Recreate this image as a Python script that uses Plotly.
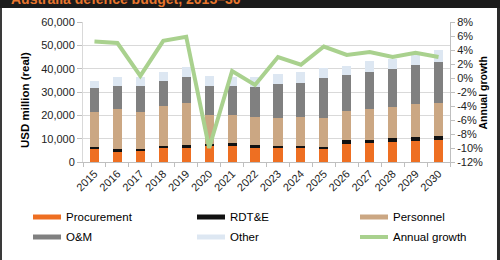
import plotly.graph_objects as go

years = [str(y) for y in range(2015, 2031)]
procurement = [5400, 4400, 4600, 5900, 6000, 6800, 6900, 6100, 5900, 5900, 5400, 7900, 8100, 8600, 9000, 9300]
rdte = [1000, 1200, 1000, 1000, 1100, 1100, 1200, 1200, 1000, 1000, 1000, 1400, 1500, 1500, 1600, 1700]
personnel = [15000, 17300, 16000, 17100, 18100, 12200, 12000, 11800, 11800, 12200, 12600, 12700, 13100, 13500, 14100, 14400]
om = [10200, 9500, 11100, 10900, 11200, 12300, 12600, 12900, 14600, 14800, 16900, 15300, 15700, 16300, 16700, 17500]
other = [3100, 4200, 3600, 3700, 4300, 4500, 3900, 4600, 4300, 4500, 4200, 4000, 4700, 4400, 4700, 5200]
growth = [5.2, 5.0, 0.3, 5.3, 5.9, -10.0, 1.0, -1.0, 3.0, 1.9, 4.5, 3.3, 3.7, 3.0, 3.6, 3.0]

y2_tickvals = [8, 6, 4, 2, 0, -2, -4, -6, -8, -10, -12]
y2_ticktext = ["8%", "6%", "4%", "2%", "0%", "-2%", "-4%", "-6%", "-8%", "-10%", "-12%"]

title_text = "Australia defence budget, 2015–30"
series_names = ["Procurement", "RDT&E", "Personnel", "O&M", "Other", "Annual growth"]
colors = ["#EE6F22", "#111111", "#CBA783", "#808080", "#DDE7F2", "#A9D18E"]

FONT = "Arial, 'Liberation Sans', sans-serif"
W, H = 500, 260
L, R, T, B = 83, 50, 22, 98
PW, PH = W - L - R, H - T - B


def px(x):
    return (x - L) / PW


def py(y):
    return (H - B - y) / PH


fig = go.Figure()
bar_series = [procurement, rdte, personnel, om, other]
for name, vals, col in zip(series_names[:5], bar_series, colors[:5]):
    fig.add_trace(go.Bar(x=years, y=vals, name=name, marker=dict(color=col, line=dict(width=0)),
                         showlegend=False))
fig.add_trace(go.Scatter(x=years, y=growth, name=series_names[5], yaxis="y2", mode="lines",
                         line=dict(color=colors[5], width=4), showlegend=False))

shapes = [
    # dark header band
    dict(type="rect", xref="paper", yref="paper", x0=px(0), x1=px(500), y0=py(8), y1=py(0),
         fillcolor="#1b1b1b", line=dict(width=0), layer="above"),
    # side borders
    dict(type="rect", xref="paper", yref="paper", x0=px(0), x1=px(2), y0=py(260), y1=py(8),
         fillcolor="#3a3a3a", line=dict(width=0)),
    dict(type="rect", xref="paper", yref="paper", x0=px(497), x1=px(500), y0=py(260), y1=py(8),
         fillcolor="#2a2a2a", line=dict(width=0)),
]

annotations = [
    dict(text="<b>" + title_text + "</b>", xref="paper", yref="paper", x=px(9), y=py(5),
         xanchor="left", yanchor="bottom", yshift=-4, showarrow=False,
         font=dict(family=FONT, size=14, color="#E8762D")),
    dict(text="<b>USD million (real)</b>", xref="paper", yref="paper", x=px(17), y=py(100),
         textangle=-90, showarrow=False, font=dict(family=FONT, size=11.5, color="#000")),
    dict(text="<b>Annual growth</b>", xref="paper", yref="paper", x=px(490), y=py(92.5),
         textangle=-90, showarrow=False, font=dict(family=FONT, size=10.5, color="#000")),
]

# manual legend
cols_x = [33, 197, 360]
rows_y = [217, 237]
for i, name in enumerate(series_names):
    r, c = divmod(i, 3)
    x0 = cols_x[c]
    yc = rows_y[r]
    hh = 2.5 if i < 5 else 2
    shapes.append(dict(type="rect", xref="paper", yref="paper", x0=px(x0), x1=px(x0 + 28),
                       y0=py(yc + hh), y1=py(yc - hh), fillcolor=colors[i], line=dict(width=0)))
    annotations.append(dict(text=name, xref="paper", yref="paper", x=px(x0 + 31), y=py(yc),
                            xanchor="left", yanchor="middle", showarrow=False,
                            font=dict(family=FONT, size=11.5, color="#000")))

fig.update_layout(
    width=W, height=H,
    margin=dict(l=L, r=R, t=T, b=B),
    barmode="stack", bargap=0.6,
    paper_bgcolor="white", plot_bgcolor="white",
    font=dict(family=FONT, size=11, color="#222"),
    xaxis=dict(type="category", tickangle=-45, ticks="outside", tickson="boundaries",
               ticklen=4, tickcolor="#BFBFBF", showline=True, linecolor="#BFBFBF",
               showgrid=False, tickfont=dict(size=11, color="#222")),
    yaxis=dict(range=[0, 60000], dtick=10000, tickformat=",", ticks="outside", ticklen=5,
               tickcolor="#BFBFBF", showline=True, linecolor="#D9D9D9", gridcolor="#D9D9D9",
               zeroline=False, tickfont=dict(size=11, color="#222")),
    yaxis2=dict(range=[-12, 8], overlaying="y", side="right", tickvals=y2_tickvals,
                ticktext=y2_ticktext, ticks="outside", ticklen=4, tickcolor="#BFBFBF",
                showline=True, linecolor="#BFBFBF", showgrid=False, zeroline=False,
                tickfont=dict(size=11, color="#222")),
    shapes=shapes, annotations=annotations,
)

fig.write_html("out.html")
